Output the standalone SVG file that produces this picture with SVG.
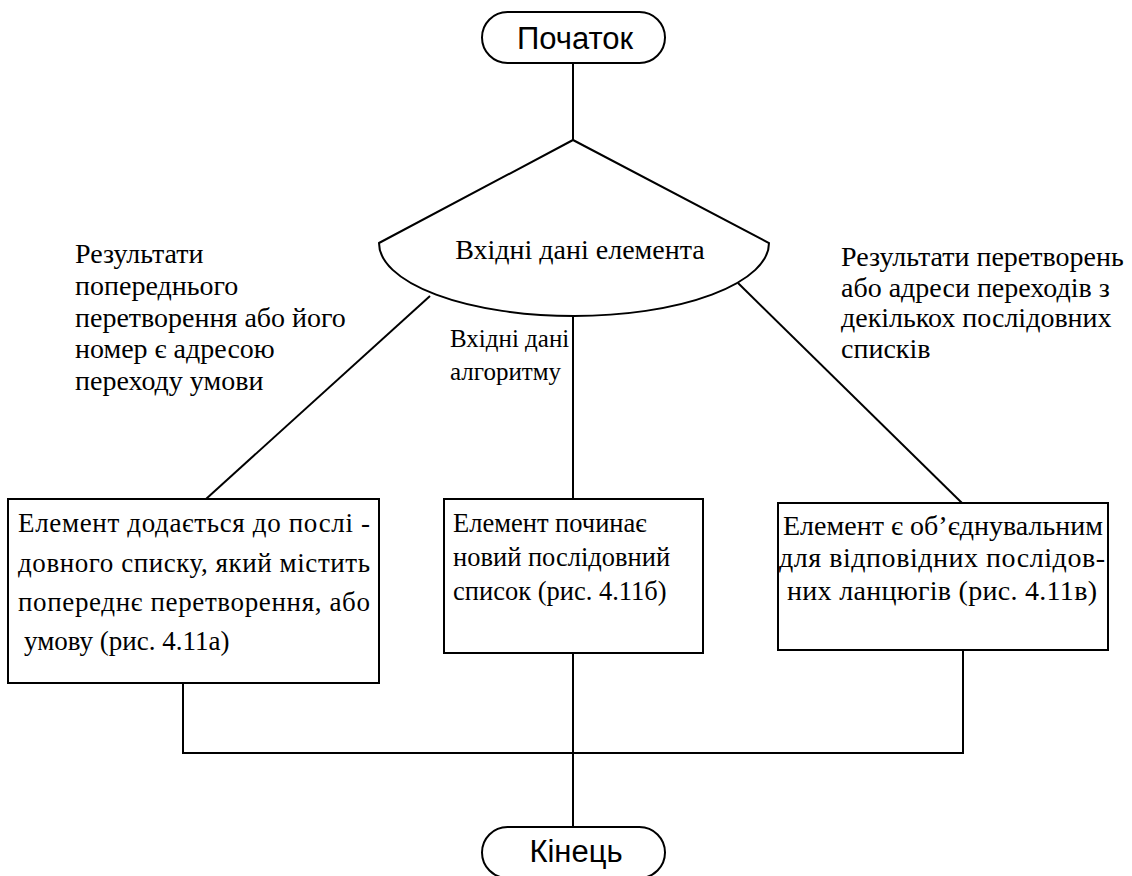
<svg xmlns="http://www.w3.org/2000/svg" width="1132" height="876" viewBox="0 0 1132 876">
  <style>
    .ln { fill: none; stroke: #000; stroke-width: 2; }
    .shape { fill: #fff; stroke: #000; stroke-width: 2; }
    .sans { font-family: "Liberation Sans", Arial, sans-serif; font-size: 31px; fill: #000; }
    .serif { font-family: "Liberation Serif", "Times New Roman", serif; font-size: 28px; fill: #000; }
    .box { font-size: 27px; }
    .mbox { font-size: 26.5px; }
    .mid { font-size: 25px; }
  </style>
  <rect width="1132" height="876" fill="#fff"/>

  <g id="connectors">
    <line class="ln" x1="573" y1="63" x2="573" y2="140"/>
    <line class="ln" x1="430" y1="296" x2="206" y2="499"/>
    <line class="ln" x1="573" y1="316" x2="573" y2="499"/>
    <line class="ln" x1="738" y1="283" x2="962" y2="503"/>
    <polyline class="ln" points="183,683 183,753 963,753 963,650"/>
    <line class="ln" x1="573" y1="653" x2="573" y2="827"/>
  </g>

  <g id="start">
    <rect class="shape" x="482" y="12" width="183" height="51" rx="25.5"/>
    <text class="sans" x="575" y="49" text-anchor="middle">Початок</text>
  </g>

  <g id="decision">
    <path class="shape" d="M379,243 L573,140 L769,243 A195,73 0 0 1 379,243 Z"/>
    <text class="serif" x="580" y="259" text-anchor="middle">Вхідні дані елемента</text>
  </g>

  <g id="label-left">
    <text class="serif" x="75" y="263">Результати</text>
    <text class="serif" x="75" y="295">попереднього</text>
    <text class="serif" x="75" y="327">перетворення або його</text>
    <text class="serif" x="75" y="358">номер є адресою</text>
    <text class="serif" x="75" y="390">переходу умови</text>
  </g>

  <g id="label-middle">
    <text class="serif mid" x="450" y="347">Вхідні дані</text>
    <text class="serif mid" x="450" y="380">алгоритму</text>
  </g>

  <g id="label-right">
    <text class="serif" x="841" y="266">Результати перетворень</text>
    <text class="serif" x="841" y="297">або адреси переходів з</text>
    <text class="serif" x="841" y="327">декількох послідовних</text>
    <text class="serif" x="841" y="358">списків</text>
  </g>

  <g id="box-left">
    <rect class="shape" x="8" y="499" width="371" height="184"/>
    <text class="serif box" x="18" y="532" textLength="352" lengthAdjust="spacing">Елемент додається до послі -</text>
    <text class="serif box" x="18" y="572" textLength="352" lengthAdjust="spacing">довного списку, який містить</text>
    <text class="serif box" x="18" y="611" textLength="352" lengthAdjust="spacing">попереднє перетворення, або</text>
    <text class="serif box" x="24" y="650">умову (рис. 4.11а)</text>
  </g>

  <g id="box-middle">
    <rect class="shape" x="444" y="499" width="259" height="154"/>
    <text class="serif mbox" x="453" y="532">Елемент починає</text>
    <text class="serif mbox" x="453" y="566">новий послідовний</text>
    <text class="serif mbox" x="453" y="600">список (рис. 4.11б)</text>
  </g>

  <g id="box-right">
    <rect class="shape" x="778" y="503" width="330" height="147"/>
    <text class="serif" x="783" y="535" textLength="320" lengthAdjust="spacing">Елемент є об’єднувальним</text>
    <text class="serif" x="779" y="567" textLength="326" lengthAdjust="spacing">для  відповідних  послідов-</text>
    <text class="serif" x="787" y="600" textLength="310" lengthAdjust="spacing">них  ланцюгів (рис. 4.11в)</text>
  </g>

  <g id="end">
    <rect class="shape" x="482" y="827" width="183" height="51" rx="25.5"/>
    <text class="sans" x="576" y="862" text-anchor="middle">Кінець</text>
  </g>
</svg>
